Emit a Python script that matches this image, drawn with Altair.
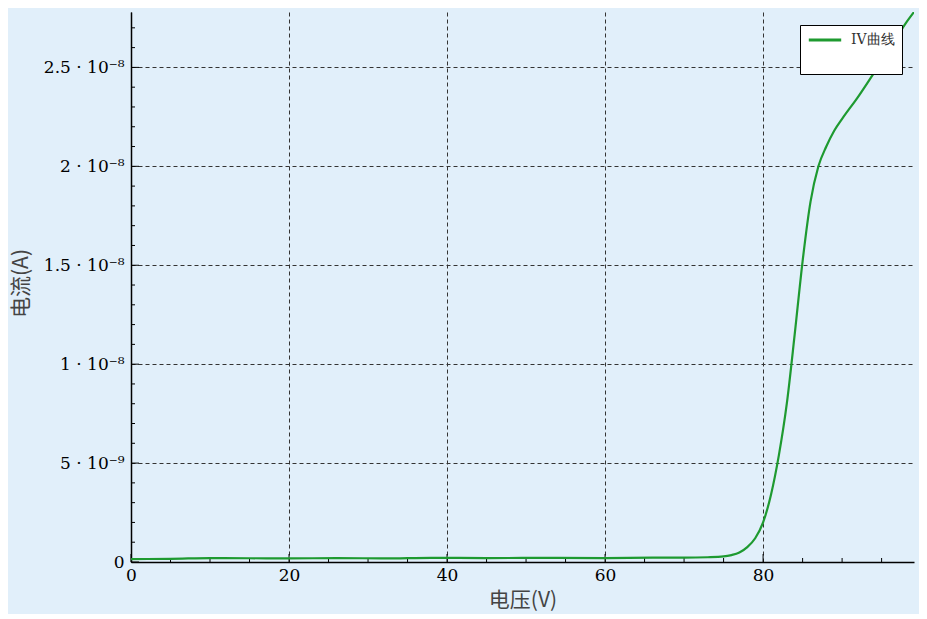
import altair as alt
import pandas as pd

# ---- data ----
voltage = [0, 5, 10, 15, 20, 26, 32, 38, 45, 54, 60, 66, 70, 73, 75, 76, 77, 78, 79,
           80, 81, 82, 83, 84, 85, 86, 87, 88, 89, 90, 92, 94, 96, 98, 99.1]
current_nA = [0.15, 0.16, 0.2, 0.19, 0.18, 0.2, 0.18, 0.21, 0.2, 0.21, 0.2, 0.22, 0.22,
              0.24, 0.28, 0.35, 0.48, 0.75, 1.2, 2.0, 3.4, 5.4, 8.0, 11.5, 15.2, 18.2,
              20.0, 21.0, 21.8, 22.4, 23.5, 24.7, 25.9, 27.2, 27.8]
series_name = "IV曲线"

x_major = [0, 20, 40, 60, 80]
x_minor = [v for v in range(0, 100, 5) if v % 20 != 0]
y_major = [0, 5e-9, 1e-8, 1.5e-8, 2e-8, 2.5e-8]
y_minor = [i * 1e-9 for i in range(0, 28) if i % 5 != 0]

x_domain = [0, 99.1]
y_domain = [0, 2.78e-8]

W, H = 783, 550
BG = "#e1effa"
GREEN = "#1e9a30"

df = pd.DataFrame({"v": voltage, "i": [c * 1e-9 for c in current_nA], "s": series_name})

xs = alt.Scale(domain=x_domain, nice=False, zero=False)
ys = alt.Scale(domain=y_domain, nice=False, zero=False)

ylabel = ("round(datum.value*1e10)==0 ? '0' : "
          "round(datum.value*1e10)==50 ? '5 · 10⁻⁹' : "
          "round(datum.value*1e10)==100 ? '1 · 10⁻⁸' : "
          "round(datum.value*1e10)==150 ? '1.5 · 10⁻⁸' : "
          "round(datum.value*1e10)==200 ? '2 · 10⁻⁸' : "
          "round(datum.value*1e10)==250 ? '2.5 · 10⁻⁸' : ''")

line = alt.Chart(df).mark_line(strokeWidth=2.2, interpolate="monotone", clip=True).encode(
    x=alt.X("v:Q", scale=xs, axis=alt.Axis(
        values=x_major, title="电压(V)", grid=True, ticks=False, labelFlush=False,
        labelFont="DejaVu Serif", labelFontSize=17, labelColor="#000", labelPadding=5,
        titleFont="Noto Sans CJK SC", titleFontSize=21, titleColor="#444",
        titleFontWeight="normal", titleX=W / 2, titleY=38, titleBaseline="middle",
        gridDash=[4, 3], gridColor="#333", gridWidth=1,
        domainColor="#000", domainWidth=1.5)),
    y=alt.Y("i:Q", scale=ys, axis=alt.Axis(
        values=y_major, title="电流(A)", grid=True, ticks=False, labelExpr=ylabel,
        labelFlush=False,
        labelFont="DejaVu Serif", labelFontSize=17, labelColor="#000", labelPadding=7,
        titleFont="Noto Sans CJK SC", titleFontSize=21, titleColor="#444",
        titleFontWeight="normal", titleX=-110, titleY=H / 2 - 4, titleBaseline="middle",
        gridDash=[4, 3], gridColor="#333", gridWidth=1,
        domainColor="#000", domainWidth=1.5)),
    color=alt.Color("s:N", scale=alt.Scale(range=[GREEN]), legend=alt.Legend(
        title=" ", titleOrient="bottom", titleFontSize=14, titlePadding=5,
        orient="none", legendX=669, legendY=13, clipHeight=16,
        fillColor="#ffffff", strokeColor="#000", padding=7,
        symbolType="stroke", symbolSize=1050, symbolStrokeWidth=3,
        labelFont="DejaVu Serif", labelFontSize=14, labelColor="#333", labelOffset=8)),
)


def xticks(vals, length):
    return alt.Chart(pd.DataFrame({"v": vals})).mark_rule(color="#000", strokeWidth=1).encode(
        x=alt.X("v:Q", scale=xs), y=alt.value(H), y2=alt.value(H - length))


def yticks(vals, length):
    return alt.Chart(pd.DataFrame({"i": vals})).mark_rule(color="#000", strokeWidth=1).encode(
        y=alt.Y("i:Q", scale=ys), x=alt.value(0), x2=alt.value(length))


chart = alt.layer(
    xticks(x_minor, 4), xticks(x_major, 8), yticks(y_minor, 4), yticks(y_major, 8), line
).properties(
    width=W, height=H, background=BG,
    padding={"left": 123, "top": 4, "right": 5, "bottom": 52},
    autosize=alt.AutoSizeParams(type="none"),
).configure_view(stroke=None)

chart.save("out.html", embed_options={"renderer": "svg", "actions": False})
